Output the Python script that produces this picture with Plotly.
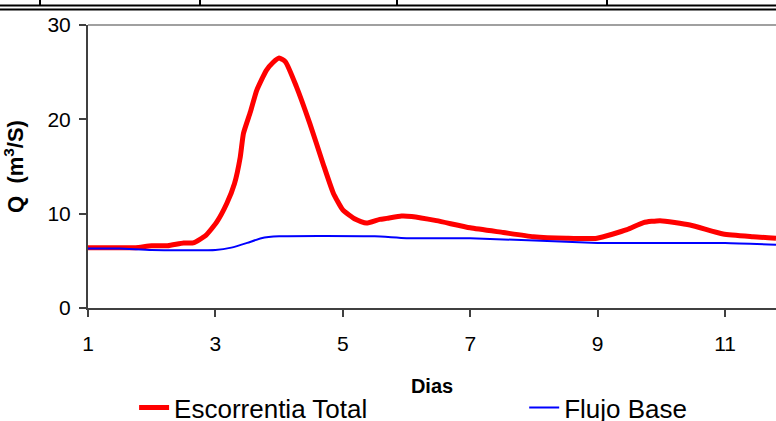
import plotly.graph_objects as go

# Data
dias_total = [1.0, 1.5, 1.75, 2.0, 2.25, 2.5, 2.65, 2.85, 3.02, 3.18, 3.3, 3.39, 3.44,
              3.55, 3.65, 3.8, 3.9, 4.0, 4.1, 4.27, 4.48, 4.69, 4.85, 5.0, 5.2, 5.37,
              5.58, 5.69, 5.92, 6.08, 6.47, 7.0, 7.52, 7.99, 8.51, 8.99, 9.46, 9.72,
              9.98, 10.45, 10.97, 11.44, 11.8]
q_total = [6.4, 6.4, 6.4, 6.6, 6.6, 6.9, 6.9, 7.7, 9.1, 11.1, 13.2, 16.0, 18.5,
           20.8, 23.1, 25.2, 26.0, 26.5, 26.1, 23.5, 19.6, 15.3, 12.2, 10.4, 9.4, 9.0,
           9.4, 9.5, 9.75, 9.7, 9.26, 8.5, 8.0, 7.56, 7.4, 7.4, 8.3, 9.05,
           9.26, 8.8, 7.85, 7.56, 7.4]

dias_base = [1.0, 1.5, 2.0, 3.0, 3.25, 3.5, 3.72, 4.0, 5.5, 6.0, 7.0, 9.0, 11.0, 11.8]
q_base = [6.3, 6.3, 6.15, 6.15, 6.4, 6.9, 7.4, 7.6, 7.6, 7.4, 7.4, 6.9, 6.9, 6.7]

x_ticks = [1, 3, 5, 7, 9, 11]
y_ticks = [0, 10, 20, 30]

fig = go.Figure()
fig.add_trace(go.Scatter(x=dias_total, y=q_total, mode="lines", name="Escorrentia Total",
                         legend="legend",
                         line=dict(color="#FF0000", width=5, shape="spline", smoothing=0.5)))
fig.add_trace(go.Scatter(x=dias_base, y=q_base, mode="lines", name="Flujo Base",
                         legend="legend2",
                         line=dict(color="#0000FF", width=2, shape="spline", smoothing=0.5)))

axis_col = "#404040"
leg_font = dict(family="Liberation Sans, Arial, sans-serif", size=26, color="black")
fig.update_layout(
    width=776, height=421,
    margin=dict(l=88, r=0, t=25, b=113, autoexpand=False),
    paper_bgcolor="white", plot_bgcolor="white",
    font=dict(family="Liberation Sans, Arial, sans-serif", size=21, color="black"),
    xaxis=dict(range=[1, 11.8], tickvals=x_ticks, ticktext=[str(v) for v in x_ticks],
               showgrid=False, zeroline=False, showline=True, linecolor=axis_col, linewidth=2,
               ticks="outside", ticklen=7, tickwidth=2, tickcolor=axis_col,
               ticklabelstandoff=9, automargin=False,
               title=dict(text="<b>Dias</b>", font=dict(size=20), standoff=25)),
    yaxis=dict(range=[0, 30], tickvals=y_ticks, ticktext=[str(v) for v in y_ticks],
               showgrid=False, zeroline=False, showline=True, linecolor=axis_col, linewidth=2,
               ticks="outside", ticklen=7, tickwidth=2, tickcolor=axis_col,
               ticklabelstandoff=4, automargin=False,
               title=dict(text="<b>Q  (m<sup>3</sup>/S)</b>", font=dict(size=22), standoff=19)),
    legend=dict(orientation="h", x=0.067, xanchor="left", y=-0.352, yanchor="middle",
                font=leg_font, bgcolor="rgba(0,0,0,0)"),
    legend2=dict(orientation="h", x=0.634, xanchor="left", y=-0.352, yanchor="middle",
                 font=leg_font, bgcolor="rgba(0,0,0,0)"),
    showlegend=True,
)

# Plot-area top border (grey) and document table lines above the chart
shapes = [
    dict(type="line", xref="paper", yref="paper", x0=0, x1=1, y0=1, y1=1,
         line=dict(color="#A0A0A0", width=2)),
]
def py(p):
    return (308 - p) / 283.0
def px(p):
    return (p - 88) / 688.0
for yy in (5.5, 9.5):
    shapes.append(dict(type="line", xref="paper", yref="paper", x0=px(0), x1=px(776),
                       y0=py(yy), y1=py(yy), line=dict(color="black", width=2)))
for xx in (40, 200, 397, 607):
    shapes.append(dict(type="line", xref="paper", yref="paper", x0=px(xx), x1=px(xx),
                       y0=py(0), y1=py(5.5), line=dict(color="black", width=2)))
fig.update_layout(shapes=shapes)

fig.write_html("out.html")
